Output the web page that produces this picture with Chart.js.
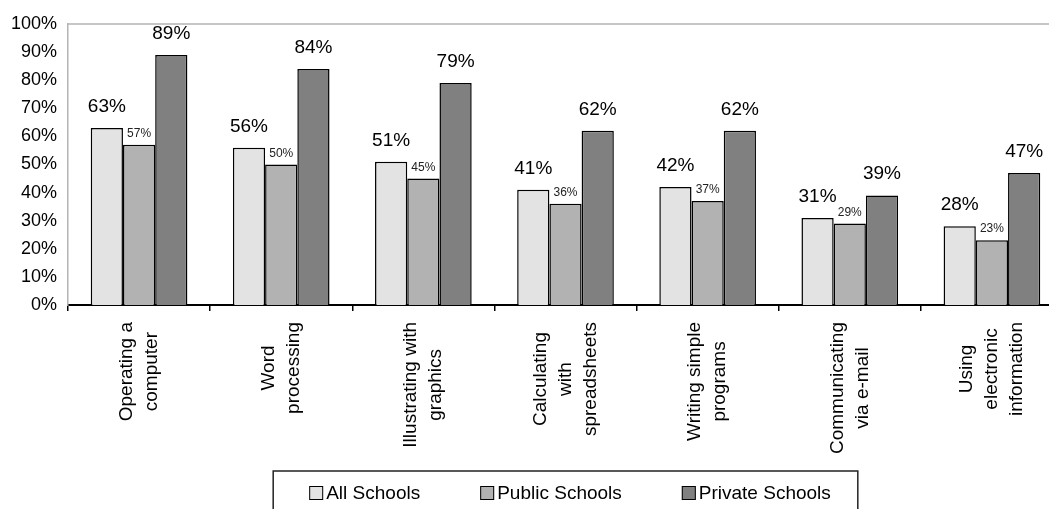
<!DOCTYPE html>
<html>
<head>
<meta charset="utf-8">
<script src="https://cdn.jsdelivr.net/npm/chart.js@4.4.1/dist/chart.umd.min.js"></script>
<style>
  html, body { margin: 0; padding: 0; background: #fff; overflow: hidden; }
  #wrap { width: 1049px; height: 509px; overflow: hidden; }
</style>
</head>
<body>
<div id="wrap"><canvas id="chart" width="1138" height="509"></canvas></div>
<script>
// categories, one entry per line of the rotated label
const categories = [
    ['Operating a', 'computer'],
    ['Word', 'processing'],
    ['Illustrating with', 'graphics'],
    ['Calculating', 'with', 'spreadsheets'],
    ['Writing simple', 'programs'],
    ['Communicating', 'via e-mail'],
    ['Using', 'electronic', 'information']
];

// percentages per series
const allSchools = [63, 56, 51, 41, 42, 31, 28];
const publicSchools = [57, 50, 45, 36, 37, 29, 23];
const privateSchools = [89, 84, 79, 62, 62, 39, 47];

const seriesNames = ['All Schools', 'Public Schools', 'Private Schools'];
const seriesColors = ['#e3e3e3', '#b2b2b2', '#808080'];

// y axis 0% .. 100% every 10
const yMin = 0;
const yMax = 100;
const yStep = 10;

var family = '"Liberation Sans", Arial, sans-serif';
Chart.defaults.font.family = family;
Chart.defaults.color = '#000';

// gray frame on top / right of the plot
var plotFrame = {
    id: 'plotFrame',
    beforeDatasetsDraw(chart) {
        var a = chart.chartArea, ctx = chart.ctx;
        ctx.save();
        ctx.strokeStyle = '#b4b4b4';
        ctx.lineWidth = 1.5;
        ctx.beginPath();
        ctx.moveTo(a.left, a.top);
        ctx.lineTo(a.right, a.top);
        ctx.lineTo(a.right, a.bottom);
        ctx.stroke();
        ctx.restore();
    }
};

// value over each bar, public schools in small print
var valueLabels = {
    id: 'valueLabels',
    afterDatasetsDraw(chart) {
        var ctx = chart.ctx;
        chart.data.datasets.forEach(function(ds, i) {
            var small = i === 1;
            chart.getDatasetMeta(i).data.forEach(function(bar, j) {
                ctx.save();
                ctx.font = (small ? '12px ' : '19px ') + family;
                ctx.fillStyle = small ? '#222' : '#000';
                ctx.textAlign = 'center';
                ctx.textBaseline = 'alphabetic';
                ctx.fillText(ds.data[j] + '%', bar.x, bar.y - (small ? 8 : 16));
                ctx.restore();
            });
        });
    }
};

// rotated category names, lines centered on each other
var categoryLabels = {
    id: 'categoryLabels',
    afterDraw(chart) {
        var xs = chart.scales.x, ctx = chart.ctx;
        ctx.save();
        ctx.font = '19px ' + family;
        ctx.fillStyle = '#000';
        ctx.textAlign = 'center';
        ctx.textBaseline = 'middle';
        chart.data.labels.forEach(function(lines, i) {
            var px = xs.getPixelForValue(i);
            var widest = Math.max.apply(null, lines.map(function(l) { return ctx.measureText(l).width; }));
            ctx.save();
            ctx.translate(px, xs.top + 17);
            ctx.rotate(-Math.PI / 2);
            lines.forEach(function(line, k) {
                ctx.fillText(line, -widest / 2, (k - (lines.length - 1) / 2) * 25);
            });
            ctx.restore();
        });
        ctx.restore();
    }
};

// boxed legend under the axis labels
var legendBox = {
    id: 'legendBox',
    afterDraw(chart) {
        var ctx = chart.ctx, a = chart.chartArea;
        var box = 14, gap = 3, spacing = 60;
        ctx.save();
        ctx.font = '19px ' + family;
        var widths = chart.data.datasets.map(function(ds) { return ctx.measureText(ds.label).width; });
        var inner = widths.reduce(function(s, w) { return s + box + gap + w; }, 0) + spacing * (widths.length - 1);
        var frameW = inner + 63;
        var left = (a.left + a.right) / 2 - frameW / 2;
        var top = chart.height - 38;
        var cy = top + 22;

        ctx.strokeStyle = '#222';
        ctx.lineWidth = 1.5;
        ctx.strokeRect(left, top, frameW, 60);

        var x = left + 36;
        ctx.textAlign = 'left';
        ctx.textBaseline = 'middle';
        chart.data.datasets.forEach(function(ds, i) {
            ctx.fillStyle = ds.backgroundColor;
            ctx.fillRect(x, cy - box / 2, box, box);
            ctx.strokeStyle = '#000';
            ctx.lineWidth = 1;
            ctx.strokeRect(x + 0.5, cy - box / 2 + 0.5, box - 1, box - 1);
            ctx.fillStyle = '#000';
            ctx.fillText(ds.label, x + box + gap, cy + 1);
            x += box + gap + widths[i] + spacing;
        });
        ctx.restore();
    }
};

function makeSet(name, values, color) {
    return {
        label: name,
        data: values,
        backgroundColor: color,
        borderColor: '#000',
        borderWidth: 1.5,
        barPercentage: 1.0,
        categoryPercentage: 0.68
    };
}

var ctx = document.getElementById('chart').getContext('2d');
var chart = new Chart(ctx, {
    type: 'bar',
    data: {
        labels: categories,
        datasets: [
            makeSet(seriesNames[0], allSchools, seriesColors[0]),
            makeSet(seriesNames[1], publicSchools, seriesColors[1]),
            makeSet(seriesNames[2], privateSchools, seriesColors[2])
        ]
    },
    options: {
        responsive: false,
        animation: false,
        layout: { padding: { top: 24, right: 75, left: 0, bottom: 0 } },
        plugins: {
            legend: { display: false },
            tooltip: { enabled: false }
        },
        scales: {
            x: {
                offset: true,
                grid: {
                    display: true,
                    offset: true,
                    drawOnChartArea: false,
                    drawTicks: true,
                    tickLength: 6,
                    color: '#000',
                    lineWidth: 1.5
                },
                border: { color: '#000', width: 2 },
                ticks: { display: false },
                afterFit: function(scale) { scale.height = 204; }
            },
            y: {
                min: yMin,
                max: yMax,
                grid: { display: false, drawTicks: false },
                border: { color: '#b4b4b4', width: 1.5 },
                ticks: {
                    stepSize: yStep,
                    padding: 11,
                    color: '#000',
                    font: { size: 18 },
                    callback: function(v) { return v + '%'; }
                },
                afterFit: function(scale) { scale.width = 68; }
            }
        }
    },
    plugins: [plotFrame, valueLabels, categoryLabels, legendBox]
});
</script>
</body>
</html>
